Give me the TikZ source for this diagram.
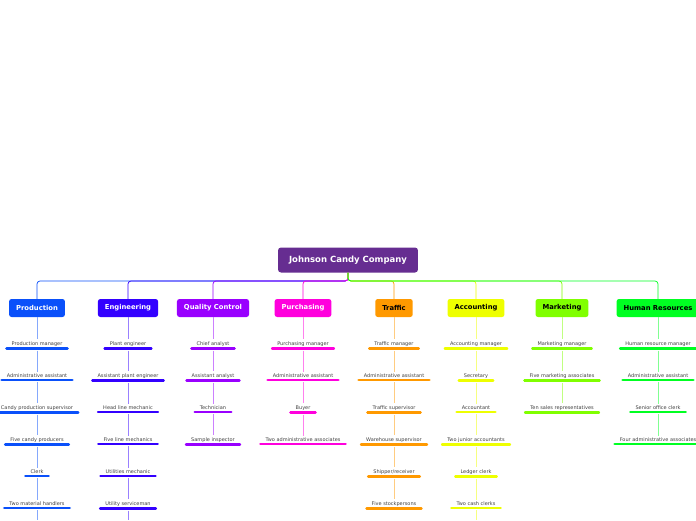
\documentclass[tikz,border=0pt]{standalone}
\usepackage{fontspec}
\setmainfont{DejaVu Sans}
\usetikzlibrary{positioning}
\definecolor{rootc}{HTML}{662D91}
\definecolor{prodc}{HTML}{0A50FA}
\definecolor{engc}{HTML}{3300FF}
\definecolor{qcc}{HTML}{9900FF}
\definecolor{purc}{HTML}{FF00DD}
\definecolor{trac}{HTML}{FF9900}
\definecolor{accc}{HTML}{EEFF00}
\definecolor{mktc}{HTML}{80FF00}
\definecolor{hrc}{HTML}{00FF22}
\tikzset{
  rootbox/.style={fill=rootc, rounded corners=3pt, text=white, font=\bfseries\fontsize{8.5}{9}\selectfont, minimum height=25pt, inner xsep=11pt},
  deptbox/.style={rounded corners=2.5pt, font=\bfseries\fontsize{6.8}{7}\selectfont, minimum height=18pt, inner xsep=7pt},
  itembox/.style={font=\fontsize{5}{5}\selectfont, text=black!75, inner ysep=2pt, inner xsep=5pt},
  bar/.style={line width=2.5pt, line cap=round},
  link/.style={line width=0.7pt}
}
\begin{document}
\begin{tikzpicture}[x=1pt,y=-1pt]
\useasboundingbox (0,0) rectangle (696,520);
% root
\node[rootbox] (root) at (348,260) {Johnson Candy Company};
% departments and their staff
\foreach \dn/\dx/\col/\txt/\name/\more/\items in {
  prod/37/prodc/white/Production/1/{Production manager,Administrative assistant,Candy production supervisor,Five candy producers,Clerk,Two material handlers},
  eng/128/engc/white/Engineering/1/{Plant engineer,Assistant plant engineer,Head line mechanic,Five line mechanics,Utilities mechanic,Utility serviceman},
  qc/213/qcc/white/Quality Control/0/{Chief analyst,Assistant analyst,Technician,Sample inspector},
  pur/303/purc/white/Purchasing/0/{Purchasing manager,Administrative assistant,Buyer,Two administrative associates},
  tra/394/trac/black/Traffic/0/{Traffic manager,Administrative assistant,Traffic supervisor,Warehouse supervisor,Shipper/receiver,Five stockpersons},
  acc/476/accc/black/Accounting/1/{Accounting manager,Secretary,Accountant,Two junior accountants,Ledger clerk,Two cash clerks},
  mkt/562/mktc/black/Marketing/0/{Marketing manager,Five marketing associates,Ten sales representatives},
  hr/658/hrc/black/Human Resources/0/{Human resource manager,Administrative assistant,Senior office clerk,Four administrative associates}}
{
  \coordinate (\dn-top) at (\dx,281);
  \node[deptbox, fill=\col, text=\txt] (\dn) at (\dx,308) {\name};
  \draw[link, \col, rounded corners=3pt] (root.south) |- (\dn-top) -- (\dn.north);
  \foreach \it [count=\i] in \items {
    \node[itembox] (\dn-\i) at (\dx,{312+32*\i}) {\it};
    \draw[bar, \col] (\dn-\i.south west) -- (\dn-\i.south east);
    \pgfmathtruncatemacro\prev{\i-1}
    \ifnum\i=1
      \draw[link, \col!50] (\dn.south) -- (\dn-\i.north);
    \else
      \draw[link, \col!50] ([yshift=-2pt]\dn-\prev.south) -- (\dn-\i.north);
    \fi
    \xdef\last{\i}
  }
  \ifnum\more=1
    \coordinate (\dn-end) at (\dx,520);
    \draw[link, \col!50] ([yshift=-2pt]\dn-\last.south) -- (\dn-end);
  \fi
}
\end{tikzpicture}
\end{document}
